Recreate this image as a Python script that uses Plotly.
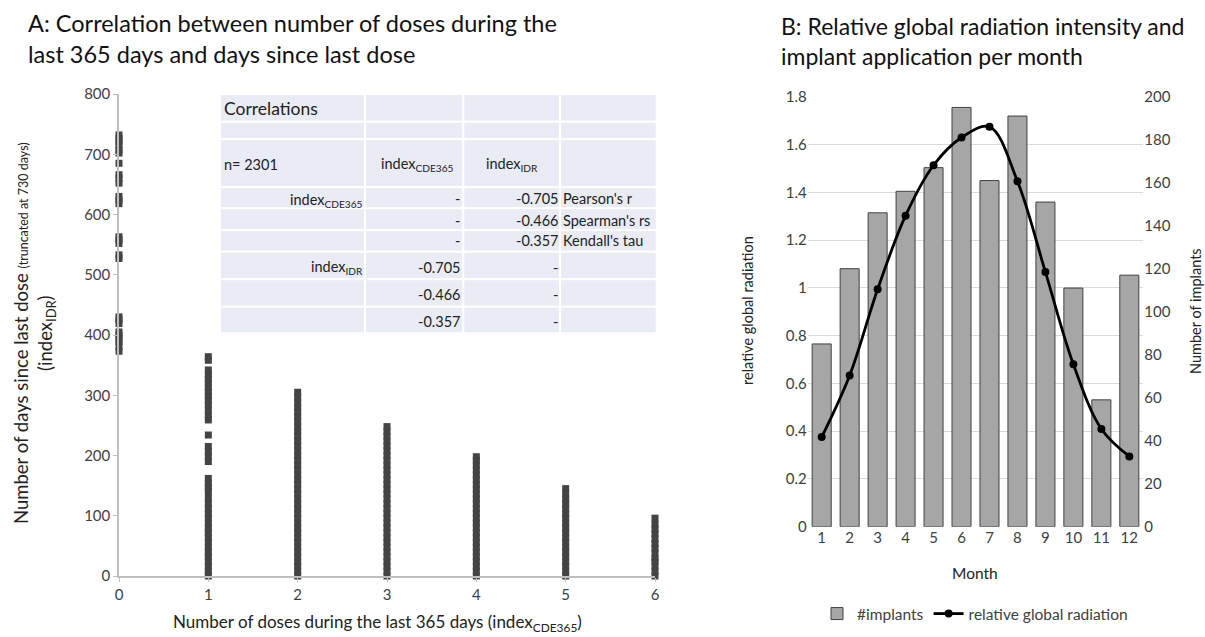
import plotly.graph_objects as go

W, H = 1205, 637
FONT = "Lato, 'Noto Sans', sans-serif"

# ---------------- Panel A data ----------------
dose_counts = [0, 1, 2, 3, 4, 5, 6]
days_dose0 = [732, 726, 721, 715, 707, 702, 685, 666, 660, 652, 630, 624, 618,
              563, 558, 552, 533, 527, 430, 425, 419, 405, 400, 394, 389, 381, 373]
days_dose1 = [0, 8, 16, 24, 32, 40, 48, 56, 64, 72, 80, 88, 96, 104, 112, 121, 129,
              140, 147, 154, 162, 190, 198, 207, 215, 234, 259, 267, 276, 284,
              292, 299, 306, 313, 320, 327, 334, 342, 358, 364]
days_dose2 = [0, 8, 16, 24, 32, 40, 48, 56, 64, 72, 80, 88, 96, 104, 112, 120, 128,
              136, 144, 152, 160, 168, 176, 184, 192, 200, 208, 216, 224, 232, 240,
              248, 256, 264, 272, 280, 288, 296, 305]
days_dose3 = [0, 8, 16, 24, 32, 40, 48, 56, 64, 72, 80, 88, 96, 104, 112, 120, 128,
              136, 144, 152, 160, 168, 176, 184, 192, 200, 208, 216, 224, 232, 240, 248]
days_dose4 = [0, 8, 16, 24, 32, 40, 48, 56, 64, 72, 80, 88, 96, 104, 112, 120, 128,
              136, 144, 152, 160, 168, 176, 184, 192, 198]
days_dose5 = [0, 8, 16, 24, 32, 40, 48, 56, 64, 72, 80, 88, 96, 104, 112, 120, 128,
              136, 145]
days_dose6 = [0, 8, 16, 24, 29, 38, 46, 54, 62, 70, 78, 86, 96]
days_by_dose = [days_dose0, days_dose1, days_dose2, days_dose3,
                days_dose4, days_dose5, days_dose6]

n_label = "n= 2301"
stat_names = ["Pearson's r", "Spearman's rs", "Kendall's tau"]
stat_values = ["-0.705", "-0.466", "-0.357"]

# ---------------- Panel B data ----------------
months = [1, 2, 3, 4, 5, 6, 7, 8, 9, 10, 11, 12]
implants = [85, 120, 146, 156, 167, 195, 161, 191, 151, 111, 59, 117]
radiation = [0.375, 0.633, 0.994, 1.302, 1.513, 1.629, 1.674, 1.446, 1.066,
             0.680, 0.409, 0.294]
rad_ticks = [0, 0.2, 0.4, 0.6, 0.8, 1, 1.2, 1.4, 1.6, 1.8]
rad_tick_text = ["0", "0.2", "0.4", "0.6", "0.8", "1", "1.2", "1.4", "1.6", "1.8"]


def px(xp):
    return xp / W


def py(yp):
    return 1 - yp / H


fig = go.Figure()

xs, ys = [], []
for d, vals in zip(dose_counts, days_by_dose):
    xs += [d] * len(vals)
    ys += vals

fig.add_trace(go.Scatter(
    x=xs, y=ys, mode="markers", xaxis="x", yaxis="y", showlegend=False,
    cliponaxis=False,
    marker=dict(symbol="square", size=7, color="#444444",
                line=dict(width=0)),
))

fig.add_trace(go.Bar(
    x=months, y=implants, name="#implants", xaxis="x2", yaxis="y3",
    width=0.68, marker=dict(color="#A6A6A6", line=dict(color="#404040", width=1)),
))
fig.add_trace(go.Scatter(
    x=months, y=radiation, name="relative global radiation", xaxis="x2", yaxis="y4",
    mode="lines+markers", line=dict(color="black", width=2.8, shape="spline", smoothing=1.0),
    marker=dict(color="black", size=8),
))

tick_font = dict(family=FONT, size=15, color="#404040")

fig.update_layout(
    width=W, height=H, margin=dict(l=0, r=0, t=0, b=0, pad=0, autoexpand=False),
    paper_bgcolor="white", plot_bgcolor="rgba(0,0,0,0)",
    font=dict(family=FONT, color="#222"),
    xaxis=dict(domain=[px(119), px(655)], range=[0, 6], tickvals=dose_counts,
               showgrid=False, zeroline=False, showline=True, linecolor="#BFBFBF",
               linewidth=1.5, ticks="outside", ticklen=4, tickcolor="#BFBFBF",
               tickfont=tick_font, anchor="y", automargin=False),
    yaxis=dict(domain=[py(576), py(94)], range=[0, 800], dtick=100,
               showgrid=False, zeroline=False, showline=True, linecolor="#BFBFBF",
               linewidth=1.5, ticks="outside", ticklen=4, tickcolor="#BFBFBF",
               tickfont=tick_font, anchor="x", automargin=False),
    xaxis2=dict(domain=[px(807.7), px(1143.3)], range=[0.5, 12.5], tickvals=months,
                showgrid=False, zeroline=False, showline=False, ticks="",
                tickfont=tick_font, anchor="y3", automargin=False),
    yaxis3=dict(domain=[py(526.7), py(96.7)], range=[0, 200], dtick=20, side="right",
                showgrid=False, zeroline=False, showline=False, anchor="x2",
                tickfont=tick_font, automargin=False),
    yaxis4=dict(range=[0, 1.8], tickvals=rad_ticks, ticktext=rad_tick_text,
                overlaying="y3", side="left", anchor="x2",
                showgrid=True, gridcolor="#D9D9D9", gridwidth=1,
                zeroline=False, showline=False, automargin=False,
                tickfont=tick_font),
    legend=dict(orientation="h", x=px(975), xanchor="center", y=py(614), yanchor="middle",
                font=dict(family=FONT, size=15.5, color="#404040"),
                bgcolor="rgba(0,0,0,0)", itemwidth=30, tracegroupgap=0),
)

shapes = []
annotations = []

# ---------- Correlation table (Panel A inset) ----------
col_edges = [220, 365, 463.3, 560, 656.7]
row_edges = [94, 121.7, 139.3, 187.3, 208.3, 230, 251.7, 279.3, 306.7, 333.3]
for i in range(len(col_edges) - 1):
    for j in range(len(row_edges) - 1):
        shapes.append(dict(type="rect", xref="paper", yref="paper",
                           x0=px(col_edges[i]), x1=px(col_edges[i + 1]),
                           y0=py(row_edges[j + 1]), y1=py(row_edges[j]),
                           fillcolor="#E9EBF5", line=dict(color="white", width=2),
                           layer="below"))


def txt(text, x, y, size=14.5, xanchor="left", color="#222", **kw):
    annotations.append(dict(text=text, x=px(x), y=py(y), xref="paper", yref="paper",
                            xanchor=xanchor, yanchor="middle", showarrow=False,
                            font=dict(family=FONT, size=size, color=color), **kw))


txt("Correlations", 222, 108, size=17.5)
txt(n_label, 222, 164)
txt("index<sub>CDE365</sub>", 379, 164)
txt("index<sub>IDR</sub>", 484, 164)
txt("index<sub>CDE365</sub>", 365, 200, xanchor="right")
txt("index<sub>IDR</sub>", 365, 267, xanchor="right")
upper_rows = [199, 220, 241]
lower_rows = [267, 294, 321]
for k in range(3):
    txt("-", 462, upper_rows[k], xanchor="right")
    txt(stat_values[k], 560, upper_rows[k], xanchor="right")
    txt(stat_names[k], 561, upper_rows[k])
    txt(stat_values[k], 462, lower_rows[k], xanchor="right")
    txt("-", 560, lower_rows[k], xanchor="right")

# ---------- Titles ----------
annotations.append(dict(
    text="A: Correlation between number of doses during the<br>last 365 days and days since last dose",
    x=px(26), y=py(7), xref="paper", yref="paper", xanchor="left", yanchor="top",
    align="left", showarrow=False, font=dict(family=FONT, size=23.5, color="#111")))
annotations.append(dict(
    text="B: Relative global radiation intensity and<br>implant application per month",
    x=px(779), y=py(10), xref="paper", yref="paper", xanchor="left", yanchor="top",
    align="left", showarrow=False, font=dict(family=FONT, size=23, color="#111")))

# ---------- Axis titles ----------
annotations.append(dict(
    text="Number of days since last dose <span style='font-size:12.5px'>(truncated at 730 days)</span>"
         "<br>(index<sub>IDR</sub>)",
    x=px(34), y=py(333), xref="paper", yref="paper", xanchor="center", yanchor="middle",
    textangle=-90, showarrow=False, font=dict(family=FONT, size=18.5, color="#222")))
annotations.append(dict(
    text="Number of doses during the last 365 days (index<sub>CDE365</sub>)",
    x=px(377), y=py(623), xref="paper", yref="paper", xanchor="center", yanchor="middle",
    showarrow=False, font=dict(family=FONT, size=17, color="#222")))
annotations.append(dict(
    text="relative global radiation", x=px(747), y=py(311), xref="paper", yref="paper",
    xanchor="center", yanchor="middle", textangle=-90, showarrow=False,
    font=dict(family=FONT, size=14.5, color="#222")))
annotations.append(dict(
    text="Number of implants", x=px(1195), y=py(311), xref="paper", yref="paper",
    xanchor="center", yanchor="middle", textangle=-90, showarrow=False,
    font=dict(family=FONT, size=14.5, color="#222")))
annotations.append(dict(
    text="Month", x=px(975), y=py(573), xref="paper", yref="paper",
    xanchor="center", yanchor="middle", showarrow=False,
    font=dict(family=FONT, size=15.5, color="#222")))

fig.update_layout(shapes=shapes, annotations=annotations)
fig.write_html("out.html", config={"displayModeBar": False},
               post_script="document.body.style.margin='0';document.body.style.overflow='hidden';")
